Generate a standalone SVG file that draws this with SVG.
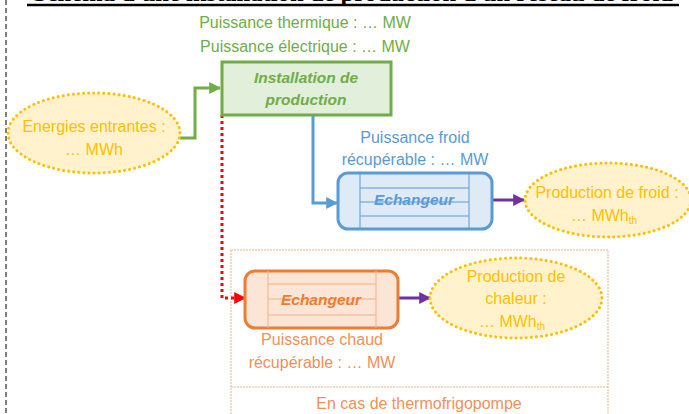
<svg xmlns="http://www.w3.org/2000/svg" width="689" height="414" viewBox="0 0 689 414">
<style>
text{font-family:"Liberation Sans","DejaVu Sans",sans-serif;font-size:16px;text-anchor:middle}
.g{fill:#70AD47}.b{fill:#5B9BD5}.o{fill:#F0915A}.y{fill:#FFC000}
.bi{font-weight:bold;font-style:italic;font-size:15.5px}
.ell{fill:#FFF2CC;stroke:#FFC000;stroke-width:3;stroke-dasharray:0.1 5;stroke-linecap:round}
</style>
<defs>
<marker id="ag" viewBox="0 0 10 10" refX="9" refY="5" markerWidth="4" markerHeight="4" orient="auto" markerUnits="strokeWidth"><path d="M0,0L10,5L0,10z" fill="#70AD47"/></marker>
<marker id="ab" viewBox="0 0 10 10" refX="9" refY="5" markerWidth="4" markerHeight="4" orient="auto" markerUnits="strokeWidth"><path d="M0,0L10,5L0,10z" fill="#5B9BD5"/></marker>
<marker id="ap" viewBox="0 0 10 10" refX="9" refY="5" markerWidth="4" markerHeight="4" orient="auto" markerUnits="strokeWidth"><path d="M0,0L10,5L0,10z" fill="#7030A0"/></marker>
<marker id="ar" viewBox="0 0 10 10" refX="9" refY="5" markerWidth="4" markerHeight="4" orient="auto" markerUnits="strokeWidth"><path d="M0,0L10,5L0,10z" fill="#FF0000"/></marker>
</defs>
<rect width="689" height="414" fill="#fff"/>
<line x1="6" y1="0" x2="6" y2="414" stroke="#000" stroke-width="1" stroke-dasharray="5 3"/>
<text x="353" y="0.5" style="font-family:'Liberation Serif',serif;font-size:20px;font-weight:bold" textLength="640" lengthAdjust="spacingAndGlyphs">Schéma d'une installation de production d'un réseau de froid</text>
<line x1="27" y1="5" x2="679" y2="5" stroke="#000" stroke-width="2.5"/>

<g id="frame-thermo">
<rect x="231" y="250" width="377" height="170" fill="none" stroke="#F8CBAD" stroke-width="1.5" stroke-dasharray="2 1"/>
<line x1="231" y1="387" x2="608" y2="387" stroke="#F4B183" stroke-width="1" stroke-dasharray="2 1"/>
<text class="o" x="419" y="409">En cas de thermofrigopompe</text>
</g>

<g id="connectors" fill="none">
<polyline points="180,138 195,138 195,88 220,88" stroke="#70AD47" stroke-width="3" marker-end="url(#ag)"/>
<polyline points="313,115 313,203 337,203" stroke="#5B9BD5" stroke-width="3" marker-end="url(#ab)"/>
<polyline points="222,115 222,298 245,298" stroke="#FF0000" stroke-width="3" stroke-dasharray="3 3" marker-end="url(#ar)"/>
<line x1="492" y1="200" x2="524" y2="200" stroke="#7030A0" stroke-width="3" marker-end="url(#ap)"/>
<line x1="398" y1="298" x2="430" y2="298" stroke="#7030A0" stroke-width="3" marker-end="url(#ap)"/>
</g>

<g id="labels-installation">
<text class="g" x="305" y="28">Puissance thermique : … MW</text>
<text class="g" x="305" y="52">Puissance électrique : … MW</text>
</g>

<g id="installation">
<rect x="222" y="62" width="169" height="53" fill="#E2EFDA" stroke="#70AD47" stroke-width="3"/>
<text class="g bi" x="306" y="83">Installation de</text>
<text class="g bi" x="306" y="105">production</text>
</g>

<g id="energies">
<ellipse class="ell" cx="94" cy="133" rx="86" ry="40"/>
<text class="y" x="94" y="132">Energies entrantes :</text>
<text class="y" x="94" y="155">… MWh</text>
</g>

<g id="echangeur-froid">
<text class="b" x="415" y="143">Puissance froid</text>
<text class="b" x="415" y="165">récupérable : … MW</text>
<rect x="338" y="173" width="154" height="56" rx="10" fill="#DEEBF7" stroke="#5B9BD5" stroke-width="3"/>
<g stroke="#5B9BD5" stroke-width="1">
<line x1="360" y1="173" x2="360" y2="229"/><line x1="469" y1="173" x2="469" y2="229"/>
<line x1="360" y1="188" x2="469" y2="188"/><line x1="360" y1="202" x2="469" y2="202"/><line x1="360" y1="216" x2="469" y2="216"/>
</g>
<text class="b bi" x="414" y="205">Echangeur</text>
</g>

<g id="production-froid">
<ellipse class="ell" cx="608" cy="200" rx="83" ry="37"/>
<text class="y" x="607" y="198">Production de froid :</text>
<text class="y" x="604" y="221">… MWh<tspan font-size="10" dy="3">th</tspan></text>
</g>

<g id="echangeur-chaud">
<rect x="245" y="271" width="153" height="57" rx="10" fill="#FBE5D6" stroke="#ED7D31" stroke-width="3"/>
<g stroke="#F4B183" stroke-width="1">
<line x1="268" y1="271" x2="268" y2="328"/><line x1="376" y1="271" x2="376" y2="328"/>
<line x1="268" y1="284" x2="376" y2="284"/><line x1="268" y1="299" x2="376" y2="299"/><line x1="268" y1="315" x2="376" y2="315"/>
</g>
<text x="321" y="305" class="bi" fill="#ED7D31">Echangeur</text>
<text class="o" x="322" y="345">Puissance chaud</text>
<text class="o" x="322" y="368">récupérable : … MW</text>
</g>

<g id="production-chaleur">
<ellipse class="ell" cx="516" cy="298" rx="86" ry="40"/>
<text class="y" x="516" y="282">Production de</text>
<text class="y" x="516" y="304">chaleur :</text>
<text class="y" x="512" y="327">… MWh<tspan font-size="10" dy="3">th</tspan></text>
</g>
</svg>
